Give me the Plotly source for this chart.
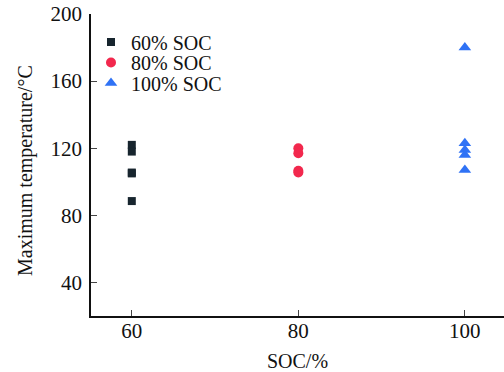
import plotly.graph_objects as go

soc60_x = [60, 60, 60, 60, 60]
soc60_y = [122, 118, 105.5, 105, 88.5]
soc80_x = [80, 80, 80, 80]
soc80_y = [120, 117, 106.5, 105.5]
soc100_x = [100, 100, 100, 100, 100]
soc100_y = [180, 123, 119, 116, 107]

FAM = "Liberation Serif"
font = dict(family=FAM, size=20, color="#111")
tfont = dict(family=FAM, size=21, color="#111")

fig = go.Figure()
fig.add_trace(go.Scatter(x=soc60_x, y=soc60_y, mode="markers", name="60% SOC", legend="legend",
                         marker=dict(symbol="square", size=8, color="#17252e")))
fig.add_trace(go.Scatter(x=soc80_x, y=soc80_y, mode="markers", name="80% SOC", legend="legend2",
                         marker=dict(symbol="circle", size=10, color="#f2284d")))
fig.add_trace(go.Scatter(x=soc100_x, y=soc100_y, mode="markers", name="100% SOC", legend="legend3",
                         marker=dict(symbol="triangle-up", size=11, color="#2f72f5")))

W, H = 504, 372
L, T, B = 91, 14, 56
ph = H - T - B

def ly(ypix):
    return (H - B - ypix) / ph

leg = dict(x=0.0, xanchor="left", yanchor="middle", bgcolor="rgba(0,0,0,0)", font=font,
           itemwidth=30, borderwidth=0)

fig.update_layout(
    width=W, height=H,
    margin=dict(l=L, r=0, t=T, b=B),
    paper_bgcolor="white", plot_bgcolor="white",
    font=font,
    showlegend=True,
    legend=dict(leg, y=ly(42)),
    legend2=dict(leg, y=ly(62.5)),
    legend3=dict(leg, y=ly(83)),
    xaxis=dict(range=[55.1, 104.7], tickvals=[60, 80, 100], ticks="inside", ticklen=6,
               showline=True, linecolor="#111", linewidth=1.5, showgrid=False, zeroline=False,
               ticklabelstandoff=-5,
               title=dict(text="SOC/%", font=font, standoff=14), tickfont=tfont),
    yaxis=dict(range=[20, 200], tickvals=[40, 80, 120, 160, 200], ticks="inside", ticklen=6,
               showline=True, linecolor="#111", linewidth=1.5, showgrid=False, zeroline=False,
               ticklabelstandoff=3, tickfont=tfont),
    annotations=[dict(text="Maximum temperature/°C", textangle=-90, showarrow=False,
                      xref="paper", yref="paper", x=(25 - L) / (W - L), y=ly(171),
                      xanchor="center", yanchor="middle", font=font)],
)

fig.write_html("out.html")
